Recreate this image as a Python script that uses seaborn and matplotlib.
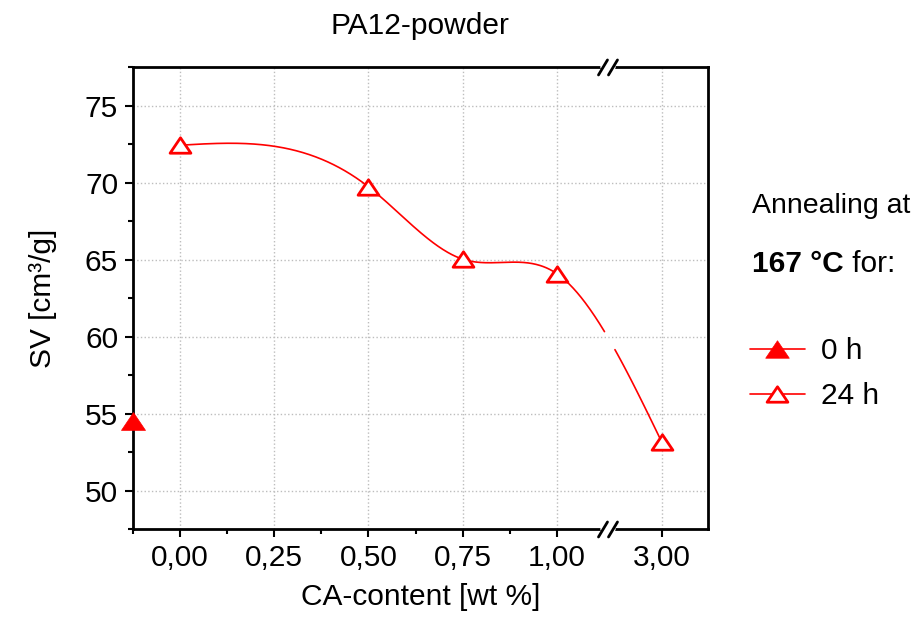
import numpy as np
import matplotlib
matplotlib.use('Agg')
import matplotlib.pyplot as plt
import seaborn as sns
from matplotlib.lines import Line2D
from matplotlib.path import Path
from matplotlib.ticker import FixedLocator, FixedFormatter

# values
ca_24h = [0.0, 0.5, 0.75, 1.0, 3.0]
sv_24h = [72.45, 69.75, 65.05, 64.1, 53.2]
ca_0h = [-0.125]
sv_0h = [54.55]

x_major = [0.0, 0.25, 0.5, 0.75, 1.0, 3.0]
x_labels = ['0,00', '0,25', '0,50', '0,75', '1,00', '3,00']
x_minor = [-0.125, 0.125, 0.375, 0.625, 0.875]
y_major = [50, 55, 60, 65, 70, 75]
y_minor = [47.5, 52.5, 57.5, 62.5, 67.5, 72.5, 77.5]

# broken x axis: 1.134 .. 2.857 is cut out
BREAK = 1.134
SHIFT = 1.723


def fwd(x):
    x = np.asarray(x, dtype=float)
    return np.where(x < 2.0, x, x - SHIFT)


def inv(u):
    u = np.asarray(u, dtype=float)
    return np.where(u <= BREAK, u, u + SHIFT)


def natural_spline(xk, yk, xs):
    xk = np.asarray(xk, float)
    yk = np.asarray(yk, float)
    n = len(xk)
    h = np.diff(xk)
    A = np.zeros((n, n))
    r = np.zeros(n)
    A[0, 0] = A[-1, -1] = 1
    for i in range(1, n - 1):
        A[i, i - 1] = h[i - 1]
        A[i, i] = 2 * (h[i - 1] + h[i])
        A[i, i + 1] = h[i]
        r[i] = 3 * ((yk[i + 1] - yk[i]) / h[i] - (yk[i] - yk[i - 1]) / h[i - 1])
    c = np.linalg.solve(A, r)
    b = (yk[1:] - yk[:-1]) / h - h * (2 * c[:-1] + c[1:]) / 3
    d = (c[1:] - c[:-1]) / (3 * h)
    idx = np.clip(np.searchsorted(xk, xs) - 1, 0, n - 2)
    t = xs - xk[idx]
    return yk[idx] + b[idx] * t + c[idx] * t ** 2 + d[idx] * t ** 3


sns.set_style('white')
plt.rcParams['font.family'] = ['Liberation Sans', 'DejaVu Sans']
plt.rcParams['font.size'] = 21.5
for key in ('text.color', 'axes.labelcolor', 'xtick.color', 'ytick.color'):
    plt.rcParams[key] = 'black'

fig = plt.figure(figsize=(9.14, 6.2), dpi=100)
ax = fig.add_axes([0.1452, 0.146, 0.6294, 0.7452])
ax.set_xscale('function', functions=(fwd, inv))

# flat triangle like the Origin marker
tri = Path([(0, 0.74), (-1, -0.74), (1, -0.74), (0, 0.74)], closed=True)

# spline through the 24 h points, drawn in screen space, with a gap at the break
u_pts = fwd(ca_24h)
u = np.linspace(u_pts[0], u_pts[-1], 600)
sv_curve = natural_spline(u_pts, sv_24h, u)
for keep in (u <= 1.126, u >= 1.153):
    sns.lineplot(x=inv(u[keep]), y=sv_curve[keep], sort=False, estimator=None,
                 color='red', linewidth=1.2, ax=ax, zorder=2)

sns.scatterplot(x=ca_24h, y=sv_24h, marker=tri, s=225, color='white',
                edgecolor='red', linewidth=2.0, ax=ax, zorder=3, clip_on=False)
sns.scatterplot(x=ca_0h, y=sv_0h, marker=tri, s=300, color='red',
                edgecolor='red', linewidth=0.5, ax=ax, zorder=3, clip_on=False)

ax.set_xlim(-0.125, 3.123)
ax.set_ylim(47.5, 77.5)
ax.xaxis.set_major_locator(FixedLocator(x_major))
ax.xaxis.set_major_formatter(FixedFormatter(x_labels))
ax.xaxis.set_minor_locator(FixedLocator(x_minor))
ax.yaxis.set_major_locator(FixedLocator(y_major))
ax.yaxis.set_minor_locator(FixedLocator(y_minor))

ax.grid(True, which='major', linestyle=':', color='#bdbdbd', linewidth=1.0)
ax.tick_params(which='both', direction='out', width=1.5, bottom=True, left=True,
               top=False, right=False)
ax.tick_params(which='major', length=5.5, pad=5)
ax.tick_params(which='minor', length=3.5)
for s in ax.spines.values():
    s.set_linewidth(2.0)
    s.set_color('black')

ax.set_title('PA12-powder', pad=24, fontsize=21.5)
ax.set_xlabel('CA-content [wt %]', labelpad=8)
ax.set_ylabel('SV [cm³/g]', labelpad=20)

# break marks on top and bottom spine
xb = (608 - 132.7) / 575.3
dx = 4.5 / 575.3
dy = 7.5 / 462
for yb in (0, 1):
    ax.plot([xb - 5 / 575.3, xb + 5 / 575.3], [yb, yb], color='white', lw=4,
            transform=ax.transAxes, clip_on=False, zorder=5)
    for xc in (xb - 5 / 575.3, xb + 5 / 575.3):
        ax.plot([xc - dx, xc + dx], [yb - dy, yb + dy], color='black', lw=2.0,
                transform=ax.transAxes, clip_on=False, zorder=6)

# legend block on the right
fig.text(752 / 914, 1 - 213 / 620, 'Annealing at', ha='left', va='baseline',
         fontsize=20.5)
t1 = fig.text(752 / 914, 1 - 272 / 620, '167 °C', ha='left', va='baseline',
              fontweight='bold')
ax.annotate(' for:', xy=(1, 0), xycoords=t1, ha='left', va='bottom',
            fontsize=21.5)

handles = [
    Line2D([], [], color='red', lw=1.2, marker=tri, markersize=17,
           markerfacecolor='red', markeredgecolor='red', markeredgewidth=0.5),
    Line2D([], [], color='red', lw=1.2, marker=tri, markersize=15,
           markerfacecolor='white', markeredgecolor='red', markeredgewidth=2.0),
]
fig.legend(handles, ['0 h', '24 h'], loc='upper left',
           bbox_to_anchor=(750 / 914, 1 - 337 / 620), frameon=False,
           handlelength=1.83, handletextpad=0.55, labelspacing=0.58,
           borderpad=0, borderaxespad=0, numpoints=1)

fig.savefig('out.png', dpi=100)
